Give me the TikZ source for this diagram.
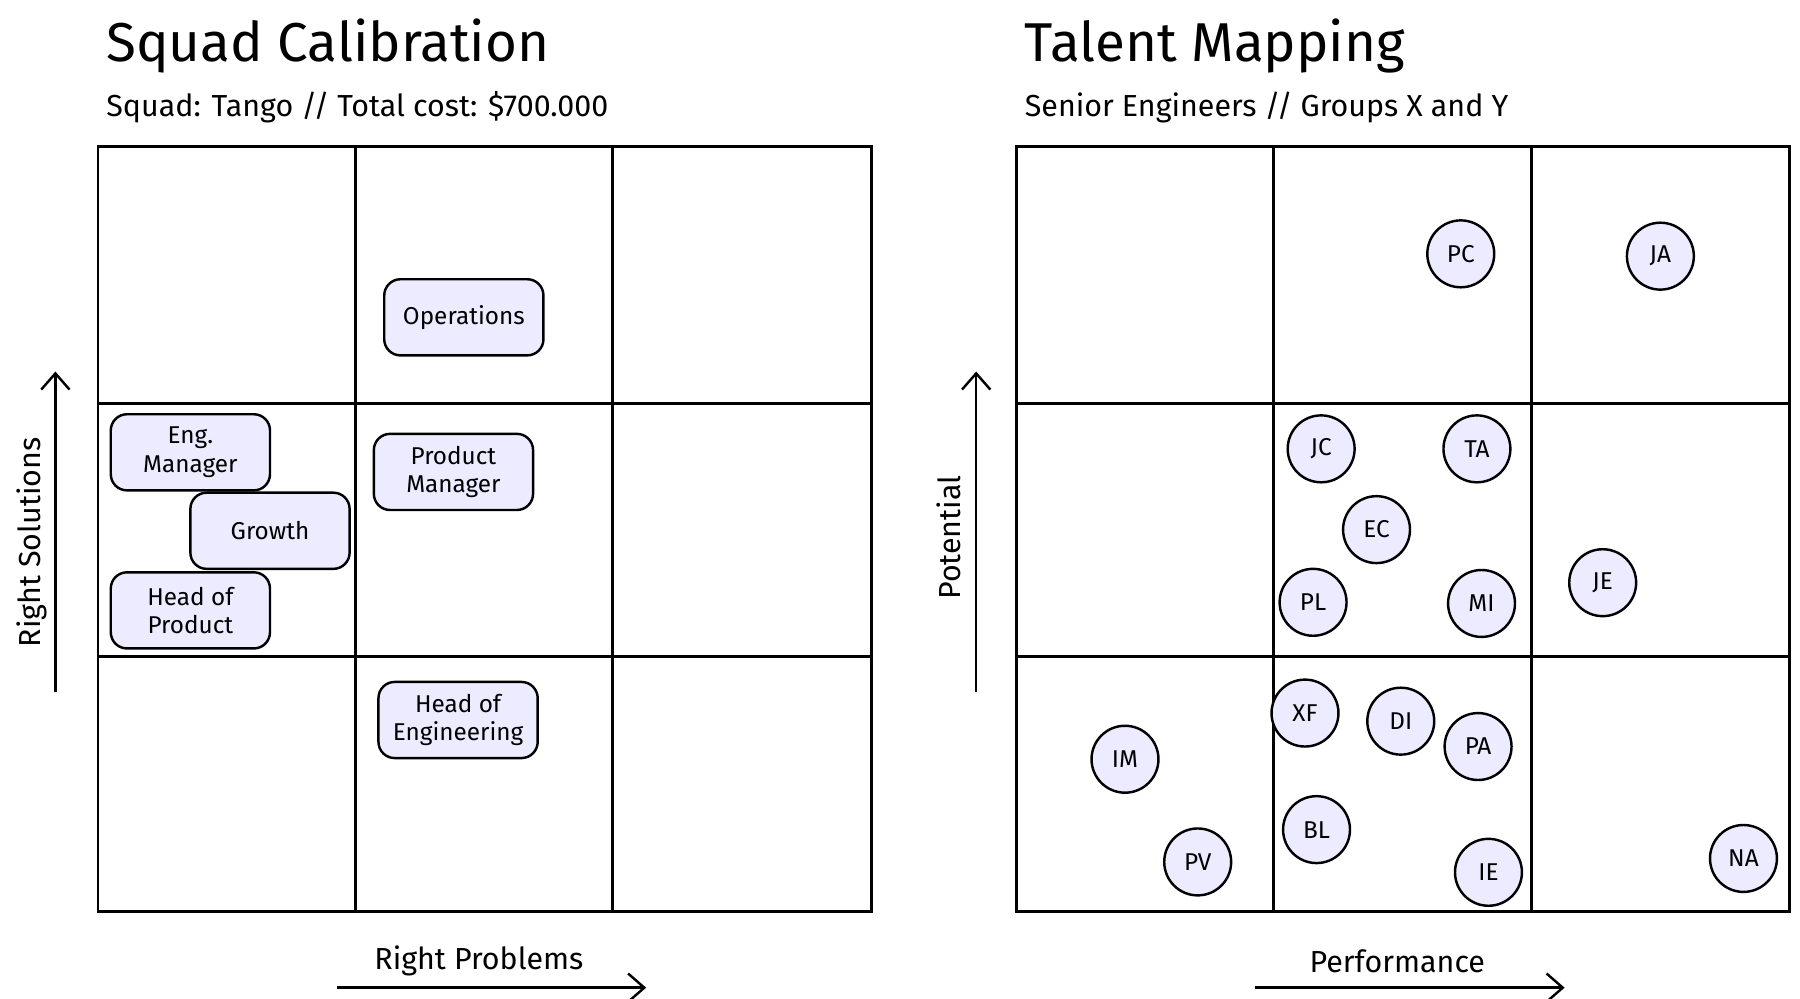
\documentclass[tikz,border=0pt]{standalone}
\usepackage{fontspec}
\setmainfont{Fira Sans}
\usetikzlibrary{arrows.meta}
\definecolor{lav}{HTML}{ECEBFF}
\begin{document}
\begin{tikzpicture}[x=0.02cm,y=-0.02cm,
  card/.style={draw,line width=1.2pt,fill=lav,rounded corners=8pt,minimum width=138*0.02cm,minimum height=66*0.02cm,align=center,font=\fontsize{12}{14}\selectfont},
  dot/.style={draw,line width=1.2pt,fill=lav,circle,minimum size=58*0.02cm,inner sep=0pt,font=\fontsize{12}{14}\selectfont},
  gridl/.style={line width=1.4pt},
  axis/.style={line width=1.2pt,-{Straight Barb[length=8pt,width=14pt]}},
  lab/.style={font=\fontsize{15}{18}\selectfont}]
\useasboundingbox (0,0) rectangle (1560,865);
% titles
\node[anchor=west,font=\fontsize{27}{30}\selectfont] (t1) at (86,40) {Squad Calibration};
\node[anchor=west,font=\fontsize{15}{18}\selectfont] (s1) at (86,93) {Squad: Tango // Total cost: \$700.000};
\node[anchor=west,font=\fontsize{27}{30}\selectfont] (t2) at (882,40) {Talent Mapping};
\node[anchor=west,font=\fontsize{15}{18}\selectfont] (s2) at (882,93) {Senior Engineers // Groups X and Y};
% grids
\foreach \x in {85,881}{
  \draw[gridl] (\x,127) rectangle (\x+670,790);
  \draw[gridl] (\x+223,127) -- (\x+223,790);
  \draw[gridl] (\x+446,127) -- (\x+446,790);
  \draw[gridl] (\x,350) -- (\x+670,350);
  \draw[gridl] (\x,569) -- (\x+670,569);
}
% left cards
\node[card] (ops) at (402,275) {Operations};
\node[card] (em) at (165,392) {Eng.\\Manager};
\node[card] (gr) at (234,460) {Growth};
\node[card] (hp) at (165,529) {Head of\\Product};
\node[card] (pm) at (393,409) {Product\\Manager};
\node[card] (he) at (397,624) {Head of\\Engineering};
% axes left
\coordinate (la1) at (48,600); \coordinate (la2) at (48,322);
\draw[axis] (la1) -- (la2);
\node[lab,rotate=90] (rs) at (28,470) {Right Solutions};
\coordinate (lb1) at (292,856); \coordinate (lb2) at (560,856);
\draw[axis] (lb1) -- (lb2);
\node[lab] (rp) at (415,833) {Right Problems};
% axes right
\coordinate (ra1) at (846,600); \coordinate (ra2) at (846,322);
\draw[axis] (ra1) -- (ra2);
\node[lab,rotate=90] (pot) at (822,466) {Potential};
\coordinate (rb1) at (1088,856); \coordinate (rb2) at (1356,856);
\draw[axis] (rb1) -- (rb2);
\node[lab] (perf) at (1211,833) {Performance};
% dots
\foreach \n/\x/\y in {PC/1266/220,JA/1439/222,JC/1145/389,TA/1280/389,EC/1193/459,PL/1138/522,MI/1284/523,JE/1389/505,XF/1131/618,DI/1214/625,PA/1281/647,IM/975/658,BL/1141/719,PV/1038/747,IE/1290/756,NA/1511/744}
  \node[dot] (\n) at (\x,\y) {\n};
\end{tikzpicture}
\end{document}
